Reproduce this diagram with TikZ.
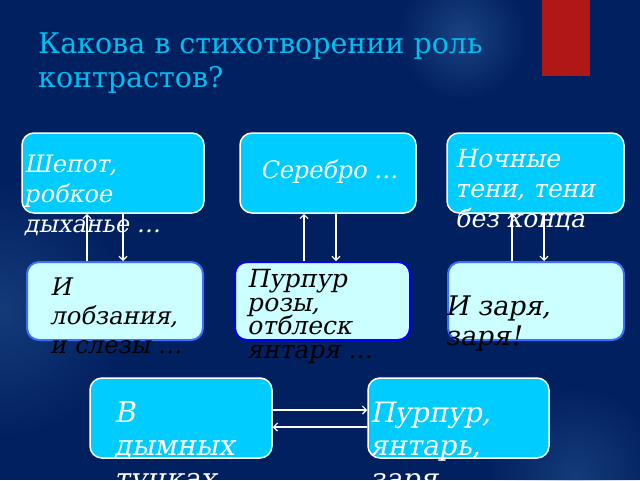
\documentclass[tikz,border=0pt]{standalone}
\usepackage{fontspec}
\setmainfont{DejaVu Serif}
\newfontfamily\oblfont[FakeSlant=0.2]{DejaVu Serif}
\usetikzlibrary{arrows.meta,fadings}
\definecolor{bg}{RGB}{1,32,96}
\definecolor{glow}{RGB}{60,110,170}
\definecolor{cyanbox}{RGB}{0,204,255}
\definecolor{lightbox}{RGB}{204,255,255}
\definecolor{titlecol}{RGB}{0,190,240}
\definecolor{redbar}{RGB}{176,24,24}
\definecolor{bordA}{RGB}{60,110,255}
\definecolor{bordB}{RGB}{0,0,255}
\tikzfading[name=softglow, inner color=transparent!0, outer color=transparent!100]
\newcommand{\fsz}[2]{\oblfont\fontsize{#1}{#2}\selectfont\lineskiplimit=-20pt}
\begin{document}
\begin{tikzpicture}[x=1pt,y=-1pt,
  topbox/.style={draw=white, line width=1.5pt, fill=cyanbox, rounded corners=12pt, inner sep=0pt},
  midbox/.style={draw=bordA, line width=2pt, fill=lightbox, rounded corners=12pt, inner sep=0pt},
  arr/.style={draw=white, line width=1.1pt, -{Straight Barb[length=4pt,width=8pt]}},
  wtext/.style={text=white, align=left, inner sep=0pt, anchor=base west},
  btext/.style={text=black, align=left, inner sep=0pt, anchor=base west}
]
\useasboundingbox (0,0) rectangle (640,480);
\fill[bg] (0,0) rectangle (640,480);
\begin{scope}
\clip (0,0) rectangle (640,480);
\fill[glow, opacity=0.45, path fading=softglow] (462,35) circle (65);
\fill[glow, opacity=0.35, path fading=softglow] (0,310) circle (130);
\fill[glow, opacity=0.35, path fading=softglow] (575,475) circle (90);
\end{scope}
\fill[redbar] (542,0) rectangle (590,76);
\node[anchor=base west, text=titlecol, align=left, inner sep=0pt, font={\fontsize{28.5}{34}\selectfont\lineskiplimit=-20pt}] (title) at (38,87) {Какова в стихотворении роль\\контрастов?};

% boxes
\node[topbox, minimum width=182pt, minimum height=80pt] (A) at (113,173) {};
\node[topbox, minimum width=176pt, minimum height=80pt] (B) at (328,173) {};
\node[topbox, minimum width=177pt, minimum height=80pt] (C) at (535.5,173) {};
\node[midbox, minimum width=176pt, minimum height=78pt] (D) at (115,301) {};
\node[midbox, draw=bordB, minimum width=175pt, minimum height=78pt] (E) at (322.5,301) {};
\node[midbox, minimum width=176pt, minimum height=78pt] (F) at (536,301) {};
\node[topbox, minimum width=182pt, minimum height=80pt] (G) at (181,418) {};
\node[topbox, minimum width=181pt, minimum height=80pt] (H) at (458.5,418) {};

% arrows
\coordinate (p1) at ([xshift=-28pt]D.north);
\coordinate (p2) at ([xshift=8pt]D.north);
\coordinate (p3) at ([xshift=-18.5pt]E.north);
\coordinate (p4) at ([xshift=13.5pt]E.north);
\coordinate (p5) at ([xshift=-24pt]F.north);
\coordinate (p6) at ([xshift=8pt]F.north);
\draw[arr] (p1) -- (p1 |- A.south);
\draw[arr] (p2 |- A.south) -- (p2);
\draw[arr] (p3) -- (p3 |- B.south);
\draw[arr] (p4 |- B.south) -- (p4);
\draw[arr] (p5) -- (p5 |- C.south);
\draw[arr] (p6 |- C.south) -- (p6);
\coordinate (q1) at ([yshift=8pt]G.east);
\coordinate (q2) at ([yshift=-9pt]G.east);
\draw[arr] (q1) -- (q1 -| H.west);
\draw[arr] (q2 -| H.west) -- (q2);

% texts (anchored at the baseline of the last line)
\node[wtext, font=\fsz{24}{30}] (tA) at (24,232) {Шепот,\\робкое\\дыханье …};
\node[wtext, font=\fsz{24}{29}] (tB) at (260,178) {Серебро …};
\node[wtext, font=\fsz{25}{30}] (tC) at (455,227) {Ночные\\тени, тени\\без конца};
\node[btext, font=\fsz{24.3}{29}] (tD) at (50,353) {И\\лобзания,\\и слезы …};
\node[btext, font=\fsz{25}{23.5}] (tE) at (247,358) {Пурпур\\розы,\\отблеск\\янтаря …};
\node[btext, font=\fsz{27}{30}] (tF) at (445,345) {И заря,\\заря!};
\node[wtext, font=\fsz{28.5}{33}] (tG) at (114,488) {В\\дымных\\тучках};
\node[wtext, font=\fsz{28}{33}] (tH) at (370,488) {Пурпур,\\янтарь,\\заря};
\end{tikzpicture}
\end{document}
